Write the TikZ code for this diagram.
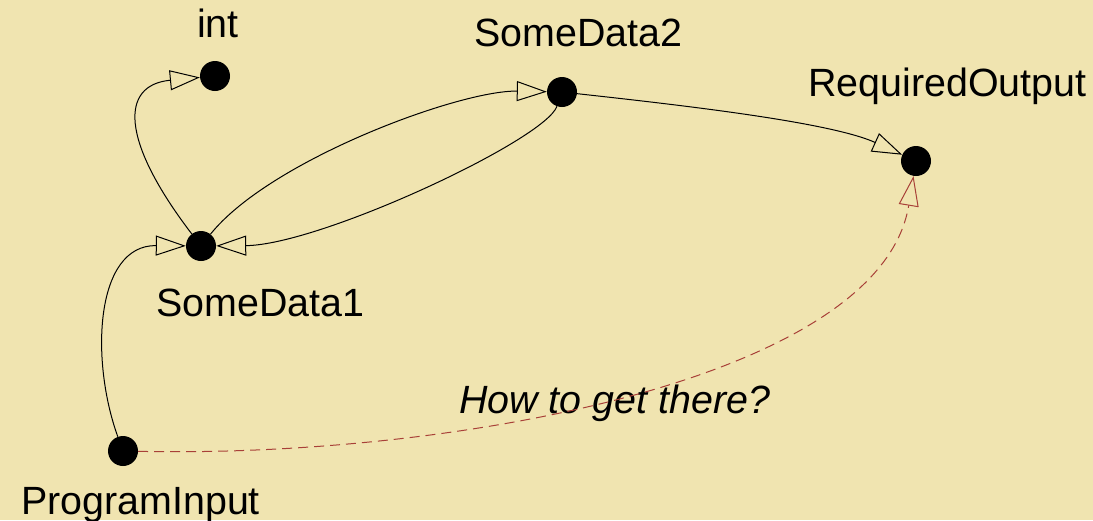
\documentclass[tikz,border=0pt]{standalone}
\usepackage{fontspec}
\setmainfont{Liberation Sans}
\usetikzlibrary{arrows.meta}
\definecolor{bg}{RGB}{240,228,176}
\definecolor{dashred}{RGB}{168,64,56}
\begin{document}
\begin{tikzpicture}[x=1pt,y=-1pt,
  dot/.style={circle,fill=black,inner sep=0pt,minimum size=30pt},
  lbl/.style={anchor=base west,inner sep=0pt,font=\fontsize{39.4}{46}\selectfont},
  edge/.style={line width=1pt,-{Triangle[open,length=30pt,width=20pt,line width=1pt]}},
  goal/.style={line width=1pt,color=dashred,dash pattern=on 10pt off 6pt,
    -{Triangle[open,length=30pt,width=20pt,line width=1pt,sep=0pt]}}
]
\fill[bg] (0,0) rectangle (1093,520);
\useasboundingbox (0,0) rectangle (1093,520);

\node[dot] (int) at (215,76) {};
\node[dot] (sd2) at (562,92) {};
\node[dot] (ro) at (916,161) {};
\node[dot] (sd1) at (201,246) {};
\node[dot] (pi) at (123,451) {};

\node[lbl] (intl) at (197,37) {int};
\node[lbl] (sd2l) at (474,46) {SomeData2};
\node[lbl] (rol) at (808,96) {RequiredOutput};
\node[lbl] (sd1l) at (156,316) {SomeData1};
\node[lbl] (pil) at (21,514) {ProgramInput};
\node[lbl,font=\fontsize{39.4}{46}\selectfont\itshape] (q) at (459,413) {How to get there?};

\draw[edge] (sd1) .. controls (120,140) and (120,85) .. (int);
\draw[edge] (sd1) .. controls (270,160) and (460,90) .. (sd2);
\draw[edge] (sd2) .. controls (545,140) and (320,245) .. (sd1);
\draw[edge] (sd2) .. controls (680,105) and (830,122) .. (ro);
\draw[edge] (pi) .. controls (90,360) and (95,245) .. (sd1);
\draw[goal] (pi) .. controls (450,458) and (880,380) .. (ro);
\end{tikzpicture}
\end{document}
